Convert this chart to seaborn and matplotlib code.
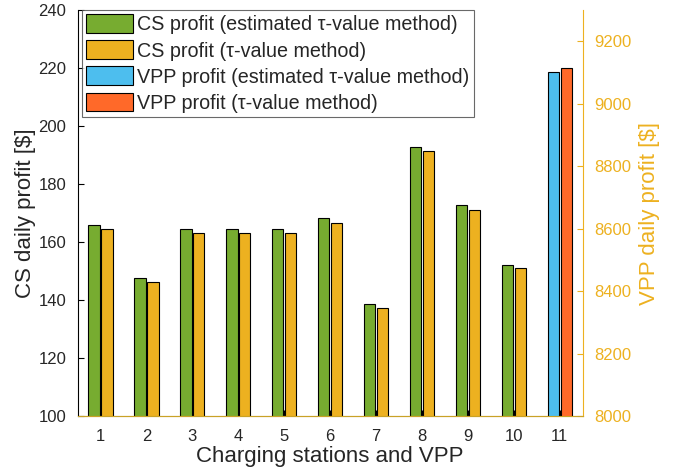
import pandas as pd
import matplotlib.pyplot as plt
import seaborn as sns

# values
stations = [1, 2, 3, 4, 5, 6, 7, 8, 9, 10]
cs_est = [166.0, 147.6, 164.4, 164.4, 164.4, 168.2, 138.5, 192.9, 172.7, 152.1]
cs_tau = [164.6, 146.3, 163.0, 163.3, 163.3, 166.6, 137.3, 191.4, 171.2, 150.9]
vpp_x = [11]
vpp_est = [9100]
vpp_tau = [9113]

lab_cs_est = 'CS profit (estimated τ-value method)'
lab_cs_tau = 'CS profit (τ-value method)'
lab_vpp_est = 'VPP profit (estimated τ-value method)'
lab_vpp_tau = 'VPP profit (τ-value method)'

cs_df = pd.DataFrame({
    'x': stations * 2,
    'profit': cs_est + cs_tau,
    'method': [lab_cs_est] * len(stations) + [lab_cs_tau] * len(stations),
})
vpp_df = pd.DataFrame({
    'x': vpp_x * 2,
    'profit': vpp_est + vpp_tau,
    'method': [lab_vpp_est, lab_vpp_tau],
})

sns.set_style('white')
plt.rcParams['font.family'] = ['Liberation Sans', 'DejaVu Sans']

orange = '#EDB120'
fig = plt.figure(figsize=(6.8, 4.74), dpi=100)
ax = fig.add_axes([0.114, 0.122, 0.743, 0.857])
ax2 = ax.twinx()

sns.barplot(data=cs_df, x='x', y='profit', hue='method', native_scale=True,
            palette=['#77AC30', orange], width=0.56, gap=0.12, saturation=1,
            edgecolor='black', linewidth=0.8, ax=ax)
sns.barplot(data=vpp_df, x='x', y='profit', hue='method', native_scale=True,
            palette=['#4DBEEE', '#FF6929'], width=0.56, gap=0.12, saturation=1,
            edgecolor='black', linewidth=0.8, ax=ax2)

h1, l1 = ax.get_legend_handles_labels()
h2, l2 = ax2.get_legend_handles_labels()
ax.get_legend().remove()
ax2.get_legend().remove()

ax.set_xlim(0.5, 11.5)
ax.set_ylim(100, 240)
ax2.set_ylim(8000, 9300)
ax.set_xticks(range(1, 12))
ax.set_yticks(range(100, 241, 20))
ax2.set_yticks(range(8000, 9201, 200))

ax.set_xlabel('Charging stations and VPP', fontsize=16, labelpad=2)
ax.set_ylabel('CS daily profit [$]', fontsize=16, labelpad=2)
ax2.set_ylabel('VPP daily profit [$]', fontsize=16, color=orange, labelpad=6)

for a in (ax, ax2):
    a.spines['top'].set_visible(False)
ax.spines['right'].set_visible(False)
ax2.spines['left'].set_visible(False)
ax2.spines['bottom'].set_color('#C9A227')
ax.spines['bottom'].set_color('#C9A227')
ax2.spines['right'].set_color(orange)
ax.spines['left'].set_color('black')

ax.tick_params(axis='both', labelsize=12, direction='in', length=4,
               color='black', left=True, bottom=True)
ax.tick_params(axis='x', pad=9)
ax.tick_params(axis='y', pad=8)
ax2.tick_params(axis='y', labelsize=12, direction='in', length=4,
                colors=orange, right=True, pad=8)

leg = ax2.legend(h1 + h2, l1 + l2, loc='upper left', bbox_to_anchor=(0.008, 1.0),
                 fontsize=14.2, handlelength=2.4, handleheight=1.1,
                 handletextpad=0.2, labelspacing=0.3, borderpad=0.22,
                 frameon=True, fancybox=False, borderaxespad=0)
leg.get_frame().set_edgecolor('#444444')
leg.get_frame().set_linewidth(0.8)

fig.savefig('out.png', dpi=100)
